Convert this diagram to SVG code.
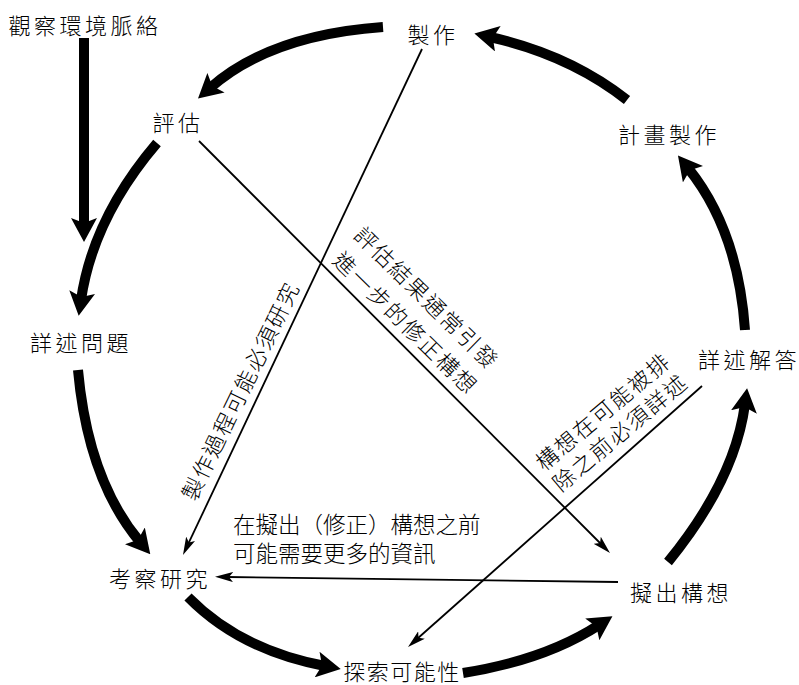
<svg xmlns="http://www.w3.org/2000/svg" width="799" height="685" viewBox="0 0 799 685">
<style>
  text { font-family: "Noto Sans CJK TC", "Noto Sans CJK SC", sans-serif; font-weight: 300; fill: #000; dominant-baseline: central; }
  .node { font-size: 22px; letter-spacing: 3.5px; text-anchor: middle; }
  .elab { font-size: 22px; letter-spacing: 2px; text-anchor: middle; }
  .note { font-size: 22.5px; text-anchor: start; }
  .thick { fill: none; stroke: #000; stroke-width: 10; stroke-linecap: butt; marker-end: url(#bighead); }
  .thin { fill: none; stroke: #000; stroke-width: 1.8; marker-end: url(#smallhead); }
</style>
<defs>
  <marker id="bighead" markerUnits="userSpaceOnUse" viewBox="0 0 24 26" markerWidth="24" markerHeight="26" refX="8" refY="13" orient="auto">
    <path d="M0,0 L24,13 L0,26 L5,13 Z" fill="#000"/>
  </marker>
  <marker id="smallhead" markerUnits="userSpaceOnUse" viewBox="0 0 18 10" markerWidth="18" markerHeight="10" refX="6" refY="5" orient="auto">
    <path d="M0,0 L18,5 L0,10 L4,5 Z" fill="#000"/>
  </marker>
</defs>
<rect width="799" height="685" fill="#fff"/>

<g id="connectors">
  <path class="thick" d="M84,38 L84,226"/>
  <path class="thick" d="M157,143 Q93,218 81,300"/>
  <path class="thick" d="M78,370 Q88,480 140,542"/>
  <path class="thick" d="M188,597 Q240,650 325,666"/>
  <path class="thick" d="M463,673 Q545,660 599,625"/>
  <path class="thick" d="M668,562 Q735,480 745,404"/>
  <path class="thick" d="M745,330 Q738,230 688,168"/>
  <path class="thick" d="M627,100 Q570,55 490,37"/>
  <path class="thick" d="M383,27 Q270,35 210,88"/>

  <path class="thin" d="M422,49 L188.1,544.2"/>
  <path class="thin" d="M199,141 L601.5,544.5"/>
  <path class="thin" d="M702,386 L417,639"/>
  <path class="thin" d="M618,582 L227,577"/>

  <g id="label-a">
    <text class="elab" transform="translate(239,390) rotate(-64)">製作過程可能必須研究</text>
  </g>
  <g id="label-b">
    <text class="elab" transform="translate(428,297) rotate(44.5)">評估結果通常引發</text>
    <text class="elab" transform="translate(407,322) rotate(44.5)">進一步的修正構想</text>
  </g>
  <g id="label-c">
    <text class="elab" transform="translate(602,410) rotate(-40)">構想在可能被排</text>
    <text class="elab" transform="translate(619,431) rotate(-40)">除之前必須詳述</text>
  </g>
  <g id="label-d">
    <text class="note" x="233" y="523">在擬出（修正）構想之前</text>
    <text class="note" x="233" y="552">可能需要更多的資訊</text>
  </g>
</g>

<g id="observe"><text class="node" x="85" y="24">觀察環境脈絡</text></g>
<g id="make"><text class="node" x="433" y="33">製作</text></g>
<g id="evaluate"><text class="node" x="178" y="121">評估</text></g>
<g id="plan"><text class="node" x="669" y="133">計畫製作</text></g>
<g id="solution"><text class="node" x="749" y="358">詳述解答</text></g>
<g id="problem"><text class="node" x="81" y="341">詳述問題</text></g>
<g id="research"><text class="node" x="160" y="577">考察研究</text></g>
<g id="ideas"><text class="node" x="681" y="591">擬出構想</text></g>
<g id="explore"><text class="node" x="402" y="670" style="letter-spacing:1.5px">探索可能性</text></g>
</svg>
